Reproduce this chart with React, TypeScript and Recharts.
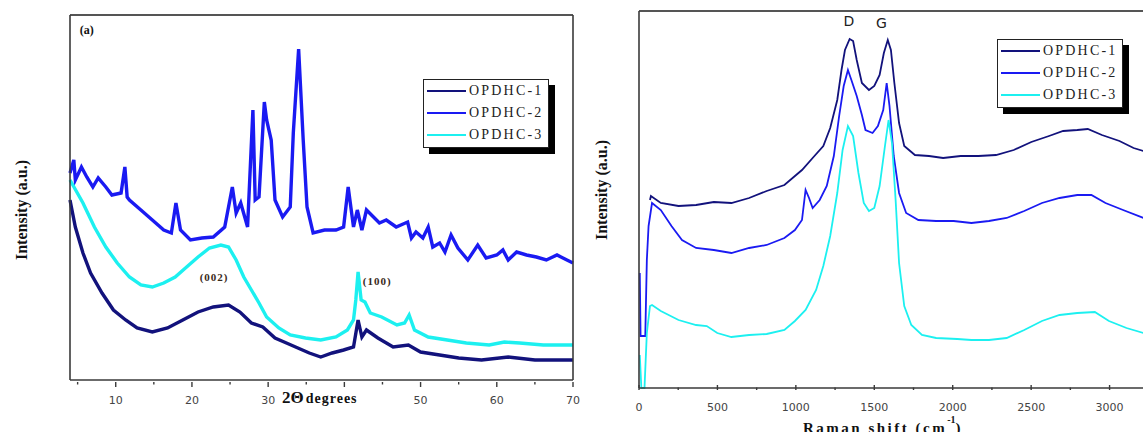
import { LineChart, Line, XAxis, YAxis, Legend, ReferenceDot } from "recharts";

// XRD patterns, [2θ, intensity a.u.]
const xrdOpdhc1: [number, number][] = [
  [4, 180], [4.7, 153], [5.7, 127], [6.7, 107], [8.2, 87], [9.7, 70], [11.3, 60],
  [12.8, 52], [14.8, 48], [16.8, 52], [18.8, 60], [20.8, 68], [22.8, 73], [24.8, 75],
  [26.3, 68], [27.8, 57], [29.3, 53], [30.9, 42], [32.4, 37], [33.9, 32], [35.4, 27],
  [36.9, 23], [38.4, 27], [39.9, 30], [41.2, 33], [41.8, 60], [42.3, 43], [42.9, 50],
  [44.4, 42], [46.4, 33], [48.4, 35], [50, 28], [52.5, 25], [55, 22], [58, 20],
  [61.5, 23], [65, 20], [70, 20],
];

const xrdOpdhc2: [number, number][] = [
  [4, 207], [4.5, 220], [4.7, 200], [5.5, 213], [6.2, 203], [7, 193], [7.7, 202],
  [8.7, 193], [9.5, 185], [10.7, 187], [11.2, 213], [11.5, 183], [11.8, 180],
  [13.3, 170], [14.8, 160], [16.3, 150], [17.3, 147], [17.9, 177], [18.5, 150],
  [19.8, 140], [21.3, 142], [22.8, 143], [24.3, 153], [25.3, 193], [25.8, 167],
  [26.4, 177], [27.3, 153], [28, 270], [28.3, 180], [28.8, 183], [29.5, 278],
  [29.8, 260], [30.4, 240], [30.9, 180], [31.9, 163], [32.9, 173], [33.3, 247],
  [34, 331], [34.6, 240], [35.1, 173], [35.9, 147], [37.4, 150], [38.9, 150],
  [39.9, 153], [40.5, 193], [41.2, 153], [41.7, 170], [42.3, 150], [42.9, 170],
  [44.6, 157], [45.5, 160], [46.8, 153], [48.3, 158], [48.8, 142], [49.4, 148],
  [50.3, 142], [51, 153], [51.6, 133], [52.5, 137], [53.2, 128], [54, 145],
  [54.9, 132], [56.2, 120], [57.5, 135], [58.6, 122], [60, 125], [60.8, 130],
  [61.5, 120], [62.6, 128], [63.9, 125], [65.2, 123], [66.5, 120], [67.9, 125],
  [69.2, 120], [70, 117],
];

const xrdOpdhc3: [number, number][] = [
  [4, 200], [5.7, 177], [7.2, 153], [8.7, 133], [10.2, 117], [11.8, 103], [13.3, 95],
  [14.8, 93], [16.3, 97], [17.8, 103], [19.3, 113], [20.8, 123], [22.3, 132],
  [23.8, 135], [24.8, 133], [25.8, 120], [26.8, 103], [27.8, 90], [28.8, 77],
  [29.8, 63], [31.4, 52], [32.9, 45], [34.9, 42], [36.9, 40], [38.9, 43], [40.4, 50],
  [41.2, 60], [41.5, 80], [41.8, 108], [42.2, 80], [42.7, 78], [43.4, 67], [44.9, 63],
  [46.9, 55], [47.9, 57], [48.5, 65], [49.2, 50], [51, 43], [53.5, 40], [56, 37],
  [59, 35], [61, 38], [63, 37], [66.1, 35], [70, 35],
];

// Raman spectra, [shift cm-1, intensity a.u.]
const ramanOpdhc1: [number, number][] = [
  [70, 188], [76, 192], [139, 185], [252, 182], [364, 183], [477, 186], [589, 185],
  [702, 190], [814, 197], [927, 203], [1039, 218], [1107, 230], [1175, 242],
  [1219, 260], [1264, 288], [1291, 318], [1313, 338], [1343, 349], [1365, 347],
  [1388, 328], [1421, 305], [1466, 298], [1500, 302], [1534, 313], [1561, 335],
  [1586, 348], [1606, 338], [1628, 305], [1658, 265], [1691, 242], [1759, 233],
  [1849, 232], [1939, 230], [2051, 232], [2164, 232], [2276, 233], [2389, 238],
  [2501, 246], [2614, 252], [2704, 257], [2794, 258], [2861, 259], [2951, 253],
  [3063, 247], [3153, 240], [3216, 237], [3300, 235],
];

const ramanOpdhc2: [number, number][] = [
  [5, 115], [10, 52], [40, 52], [50, 128], [61, 162], [83, 185], [139, 178],
  [207, 162], [274, 148], [364, 140], [477, 138], [589, 135], [702, 140], [814, 143],
  [927, 150], [994, 158], [1039, 168], [1062, 198], [1084, 190], [1107, 180],
  [1152, 188], [1197, 202], [1242, 232], [1276, 272], [1305, 302], [1332, 318],
  [1354, 308], [1388, 292], [1421, 273], [1444, 258], [1489, 255], [1523, 262],
  [1557, 278], [1579, 305], [1597, 282], [1624, 232], [1658, 195], [1703, 175],
  [1781, 168], [1894, 167], [2006, 167], [2119, 165], [2231, 167], [2344, 170],
  [2456, 177], [2569, 185], [2681, 190], [2794, 193], [2884, 193], [2974, 185],
  [3086, 178], [3216, 170], [3300, 167],
];

const ramanOpdhc3: [number, number][] = [
  [5, 33], [15, 0], [35, 0], [50, 55], [70, 82], [83, 83], [139, 77], [252, 68],
  [364, 63], [432, 62], [499, 55], [589, 51], [702, 53], [814, 54], [927, 58],
  [994, 67], [1062, 78], [1129, 98], [1175, 122], [1219, 152], [1264, 195],
  [1298, 238], [1332, 262], [1365, 252], [1399, 215], [1433, 185], [1466, 177],
  [1500, 180], [1534, 202], [1568, 242], [1591, 268], [1613, 245], [1636, 188],
  [1658, 125], [1691, 82], [1736, 63], [1804, 53], [1894, 50], [2029, 49],
  [2119, 48], [2231, 48], [2344, 50], [2456, 58], [2569, 67], [2681, 73],
  [2794, 75], [2906, 76], [2996, 67], [3108, 60], [3216, 55], [3300, 52],
];

const SERIES_NAMES = ["OPDHC-1", "OPDHC-2", "OPDHC-3"];
const COLORS = ["#12127c", "#1a1af2", "#1cf0f0"];
const xrdTicks = [5, 10, 15, 20, 25, 30, 35, 40, 45, 50, 55, 60, 65, 70];
// the axis title sits over the 40 label in the original, so it is not printed
const xrdHiddenLabels = [40];
const ramanTicks = [0, 250, 500, 750, 1000, 1250, 1500, 1750, 2000, 2250, 2500, 2750, 3000, 3250];

const toPoints = (rows: [number, number][]) => rows.map(([x, y]) => ({ x, y }));

const AXIS = "#3a3a3a";
const FRAME = "#555";
const SERIF = "'Liberation Serif', 'Times New Roman', serif";
const SANS = "'DejaVu Sans', sans-serif";

function axisTick(majorStep: number, dir: number, labelOffset: number, hidden: number[] = []) {
  return function Tick(props: any) {
    const { x, y, payload } = props;
    const major = payload.value % majorStep === 0;
    return (
      <g>
        <line x1={x} x2={x} y1={y} y2={y + dir * (major ? 5 : 2.5)} stroke={AXIS} strokeWidth={1.4} />
        {major && !hidden.includes(payload.value) && (
          <text
            x={x}
            y={y + labelOffset}
            textAnchor="middle"
            dominantBaseline="central"
            fontFamily={SANS}
            fontSize={11}
            fill="#444"
          >
            {payload.value}
          </text>
        )}
      </g>
    );
  };
}

function LegendBox() {
  return (
    <div
      style={{
        width: 126,
        border: "1.5px solid #222",
        background: "#fff",
        boxShadow: "6px 6px 0 #000",
        boxSizing: "border-box",
        padding: "0 0 1px 3px",
      }}
    >
      {SERIES_NAMES.map((name, i) => (
        <div key={name} style={{ display: "flex", alignItems: "center", height: 22 }}>
          <span style={{ width: 39, height: 2, background: COLORS[i] }} />
          <span
            style={{
              marginLeft: 3,
              fontFamily: SERIF,
              fontSize: 14,
              letterSpacing: 2.2,
              color: "#222",
              lineHeight: "22px",
            }}
          >
            {name}
          </span>
        </div>
      ))}
    </div>
  );
}

const boldSerif = { fontFamily: SERIF, fontWeight: 700, fill: "#111" };

function yTitle(dx: number, cy: number) {
  return ({ viewBox }: any) => {
    const x = viewBox.x + viewBox.width + dx;
    return (
      <text
        x={x}
        y={cy}
        transform={`rotate(-90 ${x} ${cy})`}
        textAnchor="middle"
        dominantBaseline="central"
        fontSize={16}
        {...boldSerif}
      >
        Intensity (a.u.)
      </text>
    );
  };
}

function XrdChart() {
  return (
    <LineChart width={600} height={432} margin={{ top: 14, right: 26, bottom: 22, left: 69 }}>
      <XAxis
        type="number"
        dataKey="x"
        domain={[4, 70]}
        ticks={xrdTicks}
        interval={0}
        height={30}
        tickSize={0}
        tickLine={false}
        tick={axisTick(10, 1, 18, xrdHiddenLabels)}
        axisLine={{ stroke: AXIS, strokeWidth: 1.6 }}
        label={{
          content: ({ viewBox }: any) => (
            <text x={viewBox.x + 212} y={viewBox.y + 23} {...boldSerif}>
              <tspan fontSize={17}>2Θ</tspan>
              <tspan fontSize={14} dx={2} letterSpacing={1}>degrees</tspan>
            </text>
          ),
        }}
      />
      <XAxis xAxisId="top" orientation="top" type="number" domain={[4, 70]} height={1} tick={false} tickLine={false} axisLine={{ stroke: FRAME, strokeWidth: 2 }} />
      <YAxis
        type="number"
        domain={[0, 365]}
        width={1}
        tick={false}
        tickLine={false}
        axisLine={{ stroke: AXIS, strokeWidth: 1.6 }}
        label={{ content: yTitle(-49, 210) }}
      />
      <YAxis yAxisId="right" orientation="right" domain={[0, 365]} width={1} tick={false} tickLine={false} axisLine={{ stroke: AXIS, strokeWidth: 1.6 }} />
      {[xrdOpdhc1, xrdOpdhc2, xrdOpdhc3].map((rows, i) => (
        <Line
          key={SERIES_NAMES[i]}
          name={SERIES_NAMES[i]}
          data={toPoints(rows)}
          dataKey="y"
          type="linear"
          stroke={COLORS[i]}
          strokeWidth={3.4}
          strokeLinejoin="miter"
          dot={false}
          isAnimationActive={false}
        />
      ))}
      <ReferenceDot x={6.2} y={350} r={0} fill="none" stroke="none"
        label={{ value: "(a)", position: "center", fontSize: 12, ...boldSerif }} />
      <ReferenceDot x={22.9} y={103} r={0} fill="none" stroke="none"
        label={{ value: "(002)", position: "center", fontSize: 11, letterSpacing: 1, ...boldSerif, fill: "#3a2a1a" }} />
      <ReferenceDot x={44.3} y={99} r={0} fill="none" stroke="none"
        label={{ value: "(100)", position: "center", fontSize: 11, letterSpacing: 1, ...boldSerif, fill: "#3a2a1a" }} />
      <Legend
        layout="vertical"
        align="center"
        verticalAlign="middle"
        wrapperStyle={{ left: 423, top: 79, width: 132 }}
        content={() => <LegendBox />}
      />
    </LineChart>
  );
}

function RamanChart() {
  return (
    <LineChart width={620} height={432} margin={{ top: 10, right: 21, bottom: 14, left: 48 }}>
      <XAxis
        type="number"
        dataKey="x"
        domain={[0, 3500]}
        ticks={ramanTicks}
        interval={0}
        height={30}
        tickSize={0}
        tickLine={false}
        tick={axisTick(500, -1, 17)}
        axisLine={{ stroke: AXIS, strokeWidth: 1.6 }}
        label={{
          content: ({ viewBox }: any) => (
            <text x={viewBox.x + 244} y={viewBox.y + 45} textAnchor="middle" fontSize={15} letterSpacing={2.5} {...boldSerif}>
              Raman shift (cm
              <tspan fontSize={10} dy={-10} letterSpacing={0}>-1</tspan>
              <tspan dy={10}>)</tspan>
            </text>
          ),
        }}
      />
      <XAxis xAxisId="top" orientation="top" type="number" domain={[0, 3500]} height={1} tick={false} tickLine={false} axisLine={{ stroke: FRAME, strokeWidth: 2 }} />
      <YAxis
        type="number"
        domain={[0, 377]}
        width={1}
        tick={false}
        tickLine={false}
        axisLine={{ stroke: AXIS, strokeWidth: 1.6 }}
        label={{ content: yTitle(-38, 190) }}
      />
      <YAxis yAxisId="right" orientation="right" domain={[0, 377]} width={1} tick={false} tickLine={false} axisLine={{ stroke: AXIS, strokeWidth: 1.6 }} />
      {[ramanOpdhc1, ramanOpdhc2, ramanOpdhc3].map((rows, i) => (
        <Line
          key={SERIES_NAMES[i]}
          name={SERIES_NAMES[i]}
          data={toPoints(rows)}
          dataKey="y"
          type="linear"
          stroke={COLORS[i]}
          strokeWidth={1.8}
          dot={false}
          isAnimationActive={false}
        />
      ))}
      <ReferenceDot x={1338} y={367} r={0} fill="none" stroke="none"
        label={{ value: "D", position: "center", fontSize: 14, fontFamily: SANS, fill: "#222" }} />
      <ReferenceDot x={1545} y={365} r={0} fill="none" stroke="none"
        label={{ value: "G", position: "center", fontSize: 14, fontFamily: SANS, fill: "#222" }} />
      <Legend
        layout="vertical"
        align="center"
        verticalAlign="middle"
        wrapperStyle={{ left: 407, top: 39, width: 132 }}
        content={() => <LegendBox />}
      />
    </LineChart>
  );
}

export default function App() {
  return (
    <div
      style={{
        position: "fixed",
        left: 0,
        top: 0,
        width: 1143,
        height: 432,
        overflow: "hidden",
        background: "#fff",
      }}
    >
      <div style={{ position: "absolute", left: 0, top: 0 }}>
        <XrdChart />
      </div>
      <div style={{ position: "absolute", left: 590, top: 0 }}>
        <RamanChart />
      </div>
    </div>
  );
}
